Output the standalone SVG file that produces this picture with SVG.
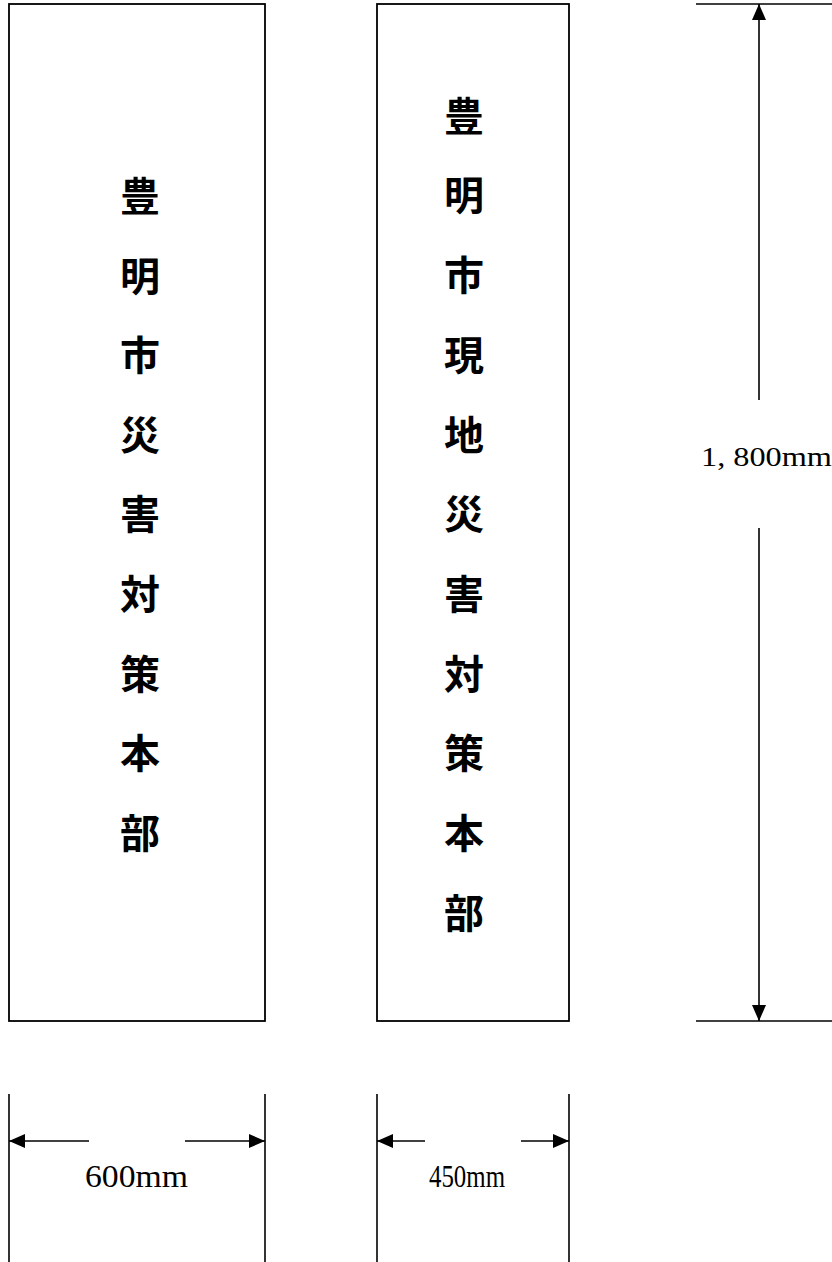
<svg xmlns="http://www.w3.org/2000/svg" width="832" height="1262" viewBox="0 0 832 1262">
<style>
.box{fill:#fff;stroke:#000;stroke-width:1.8}
.dim{stroke:#000;stroke-width:1.6;fill:none}
.ja{font-family:"Noto Sans CJK JP","Noto Sans CJK SC",sans-serif;font-weight:bold;font-size:40px;fill:#000;text-anchor:middle}
.lbl{font-family:"Liberation Serif",serif;fill:#000}
</style>
<defs>
<marker id="ah" markerWidth="16" markerHeight="14" refX="16" refY="7" orient="auto" markerUnits="userSpaceOnUse">
<path d="M0,0 L16,7 L0,14 Z" fill="#000"/>
</marker>
</defs>
<rect width="832" height="1262" fill="#fff"/>
<g id="sign-left">
<rect class="box" x="9" y="4" width="256" height="1017"/>
<text class="ja" x="140" y="211">豊</text>
<text class="ja" x="140" y="291">明</text>
<text class="ja" x="140" y="370">市</text>
<text class="ja" x="140" y="450">災</text>
<text class="ja" x="140" y="529">害</text>
<text class="ja" x="140" y="609">対</text>
<text class="ja" x="140" y="689">策</text>
<text class="ja" x="140" y="768">本</text>
<text class="ja" x="140" y="848">部</text>
</g>
<g id="sign-middle">
<rect class="box" x="377" y="4" width="192" height="1017"/>
<text class="ja" x="464" y="131">豊</text>
<text class="ja" x="464" y="210">明</text>
<text class="ja" x="464" y="290">市</text>
<text class="ja" x="464" y="370">現</text>
<text class="ja" x="464" y="450">地</text>
<text class="ja" x="464" y="529">災</text>
<text class="ja" x="464" y="609">害</text>
<text class="ja" x="464" y="689">対</text>
<text class="ja" x="464" y="768">策</text>
<text class="ja" x="464" y="848">本</text>
<text class="ja" x="464" y="928">部</text>
</g>
<g id="connectors">
<line class="dim" x1="696" y1="4" x2="832" y2="4"/>
<line class="dim" x1="696" y1="1021" x2="832" y2="1021"/>
<line class="dim" x1="759" y1="400" x2="759" y2="4" marker-end="url(#ah)"/>
<line class="dim" x1="759" y1="528" x2="759" y2="1021" marker-end="url(#ah)"/>
<line class="dim" x1="9" y1="1094" x2="9" y2="1262"/>
<line class="dim" x1="265" y1="1094" x2="265" y2="1262"/>
<line class="dim" x1="89" y1="1141" x2="9" y2="1141" marker-end="url(#ah)"/>
<line class="dim" x1="185" y1="1141" x2="265" y2="1141" marker-end="url(#ah)"/>
<line class="dim" x1="377" y1="1094" x2="377" y2="1262"/>
<line class="dim" x1="569" y1="1094" x2="569" y2="1262"/>
<line class="dim" x1="425" y1="1141" x2="377" y2="1141" marker-end="url(#ah)"/>
<line class="dim" x1="521" y1="1141" x2="569" y2="1141" marker-end="url(#ah)"/>
</g>
<g id="labels">
<text class="lbl" x="701" y="466" font-size="28" textLength="131" lengthAdjust="spacingAndGlyphs">1, 800mm</text>
<text class="lbl" x="85" y="1187" font-size="32" textLength="103" lengthAdjust="spacingAndGlyphs">600mm</text>
<text class="lbl" x="429" y="1187" font-size="32" textLength="76" lengthAdjust="spacingAndGlyphs">450mm</text>
</g>
</svg>
